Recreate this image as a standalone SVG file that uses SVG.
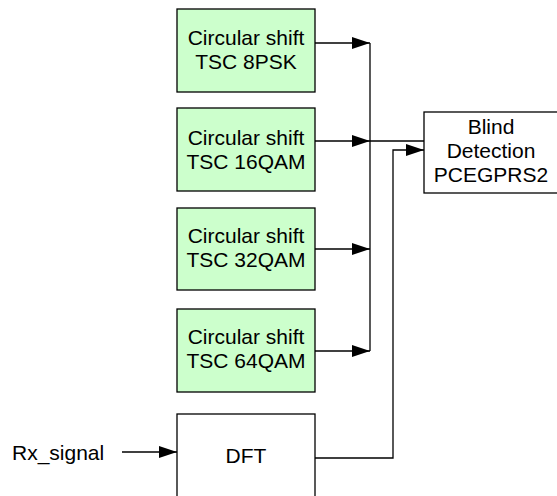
<svg xmlns="http://www.w3.org/2000/svg" width="557" height="496" viewBox="0 0 557 496">
<style>
.box{fill:#ccffcc;stroke:#000;stroke-width:1.3}
.wbox{fill:#fff;stroke:#000;stroke-width:1.3}
.t{font-family:"Liberation Sans",Arial,sans-serif;font-size:21px;fill:#000;text-anchor:middle}
.tl{font-family:"Liberation Sans",Arial,sans-serif;font-size:21px;fill:#000}
.c{fill:none;stroke:#000;stroke-width:1.3}
</style>
<defs>
<marker id="ah" viewBox="0 0 18 12" refX="18" refY="6" markerWidth="18" markerHeight="12" markerUnits="userSpaceOnUse" orient="auto">
<path d="M0,0 L18,6 L0,12 Z" fill="#000"/>
</marker>
</defs>
<rect width="557" height="496" fill="#fff"/>
<g id="connectors">
<path class="c" d="M315,43 H370" marker-end="url(#ah)"/>
<path class="c" d="M315,141 H370" marker-end="url(#ah)"/>
<path class="c" d="M315,249 H370" marker-end="url(#ah)"/>
<path class="c" d="M315,351 H370" marker-end="url(#ah)"/>
<path class="c" d="M370,43 V351"/>
<path class="c" d="M370,141 H424"/>
<path class="c" d="M315,458 H393 V150 H424" marker-end="url(#ah)"/>
<path class="c" d="M122,452 H177" marker-end="url(#ah)"/>
</g>
<g id="cs8psk">
<rect class="box" x="177" y="9" width="138" height="83"/>
<text class="t" x="246" y="45">Circular shift</text>
<text class="t" x="246" y="69">TSC 8PSK</text>
</g>
<g id="cs16qam">
<rect class="box" x="177" y="108" width="138" height="83"/>
<text class="t" x="246" y="145">Circular shift</text>
<text class="t" x="246" y="169">TSC 16QAM</text>
</g>
<g id="cs32qam">
<rect class="box" x="177" y="208" width="138" height="82"/>
<text class="t" x="246" y="243">Circular shift</text>
<text class="t" x="246" y="267">TSC 32QAM</text>
</g>
<g id="cs64qam">
<rect class="box" x="177" y="309" width="138" height="83"/>
<text class="t" x="246" y="344">Circular shift</text>
<text class="t" x="246" y="368">TSC 64QAM</text>
</g>
<g id="blind">
<rect class="wbox" x="424" y="112" width="140" height="81"/>
<text class="t" x="491" y="134">Blind</text>
<text class="t" x="491" y="158">Detection</text>
<text class="t" x="491" y="182">PCEGPRS2</text>
</g>
<g id="dft">
<rect class="wbox" x="177" y="414" width="138" height="90"/>
<text class="t" x="246" y="463">DFT</text>
</g>
<g id="rx">
<text class="tl" x="12" y="460">Rx_signal</text>
</g>
</svg>
